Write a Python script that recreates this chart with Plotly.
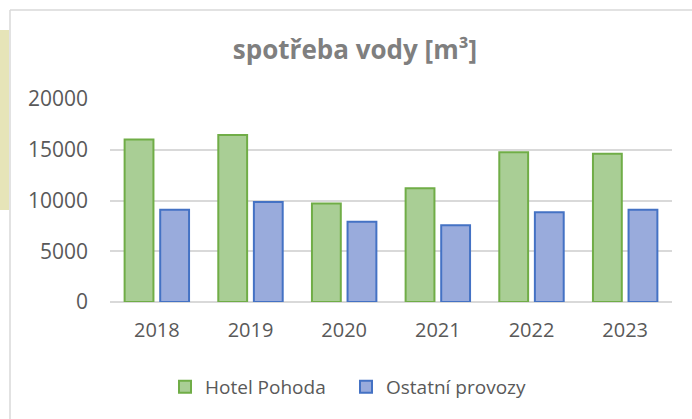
import plotly.graph_objects as go

years = ["2018", "2019", "2020", "2021", "2022", "2023"]
hotel_pohoda = [16000, 16450, 9700, 11200, 14750, 14600]
ostatni_provozy = [9100, 9850, 7900, 7550, 8850, 9100]
series_names = ["Hotel Pohoda", "Ostatní provozy"]
y_ticks = [0, 5000, 10000, 15000, 20000]

W, H = 692, 419
ML, MR, MT, MB = 110, 20, 99, 117
PW = W - ML - MR
PH = H - MT - MB

def px(x):
    return (x - ML) / PW

def py(y):
    return (H - MB - y) / PH

FONT = "Open Sans"
GRAY = "#595959"

fig = go.Figure()
fig.add_trace(go.Bar(
    x=years, y=hotel_pohoda, name=series_names[0],
    marker=dict(color="#a9ce95", line=dict(color="#70ad47", width=2)),
))
fig.add_trace(go.Bar(
    x=years, y=ostatni_provozy, name=series_names[1],
    marker=dict(color="#99abdc", line=dict(color="#4472c4", width=2)),
))

shapes = [
    dict(type="rect", xref="paper", yref="paper", x0=px(0), x1=px(9), y0=py(210), y1=py(30),
         fillcolor="#e6e4b8", line=dict(width=0), layer="below"),
    dict(type="line", xref="paper", yref="paper", x0=px(10), x1=px(692), y0=py(10), y1=py(10),
         line=dict(color="#d9d9d9", width=1.5)),
    dict(type="line", xref="paper", yref="paper", x0=px(10), x1=px(10), y0=py(10), y1=py(419),
         line=dict(color="#d9d9d9", width=1.5)),
]

fig.update_layout(
    width=W, height=H,
    margin=dict(l=ML, r=MR, t=MT, b=MB),
    paper_bgcolor="white", plot_bgcolor="white",
    barmode="group", bargap=0.24, bargroupgap=0.19,
    title=dict(text="<b>spotřeba vody [m³]</b>", x=355 / W, xanchor="center",
               y=1 - 50 / H, yanchor="middle",
               font=dict(family=FONT, size=26, color="#7f7f7f")),
    xaxis=dict(tickfont=dict(family=FONT, size=20, color=GRAY), showgrid=False,
               showline=False, ticks="", ticklabelstandoff=14),
    yaxis=dict(range=[0, 20000], tickvals=y_ticks, ticktext=[str(v) for v in y_ticks],
               tickfont=dict(family=FONT, size=21, color=GRAY),
               showgrid=True, gridcolor="#d9d9d9", gridwidth=1.8,
               zeroline=True, zerolinecolor="#d9d9d9", zerolinewidth=1.8,
               showline=False, ticks="", ticklabelstandoff=21),
    legend=dict(orientation="h", x=px(165), xanchor="left", y=py(387), yanchor="middle",
                font=dict(family=FONT, size=19, color=GRAY), traceorder="normal",
                itemwidth=30, entrywidth=136),
    shapes=shapes,
    showlegend=True,
)

fig.write_html("out.html", config={"displayModeBar": False},
               post_script="document.body.style.margin='0';")
